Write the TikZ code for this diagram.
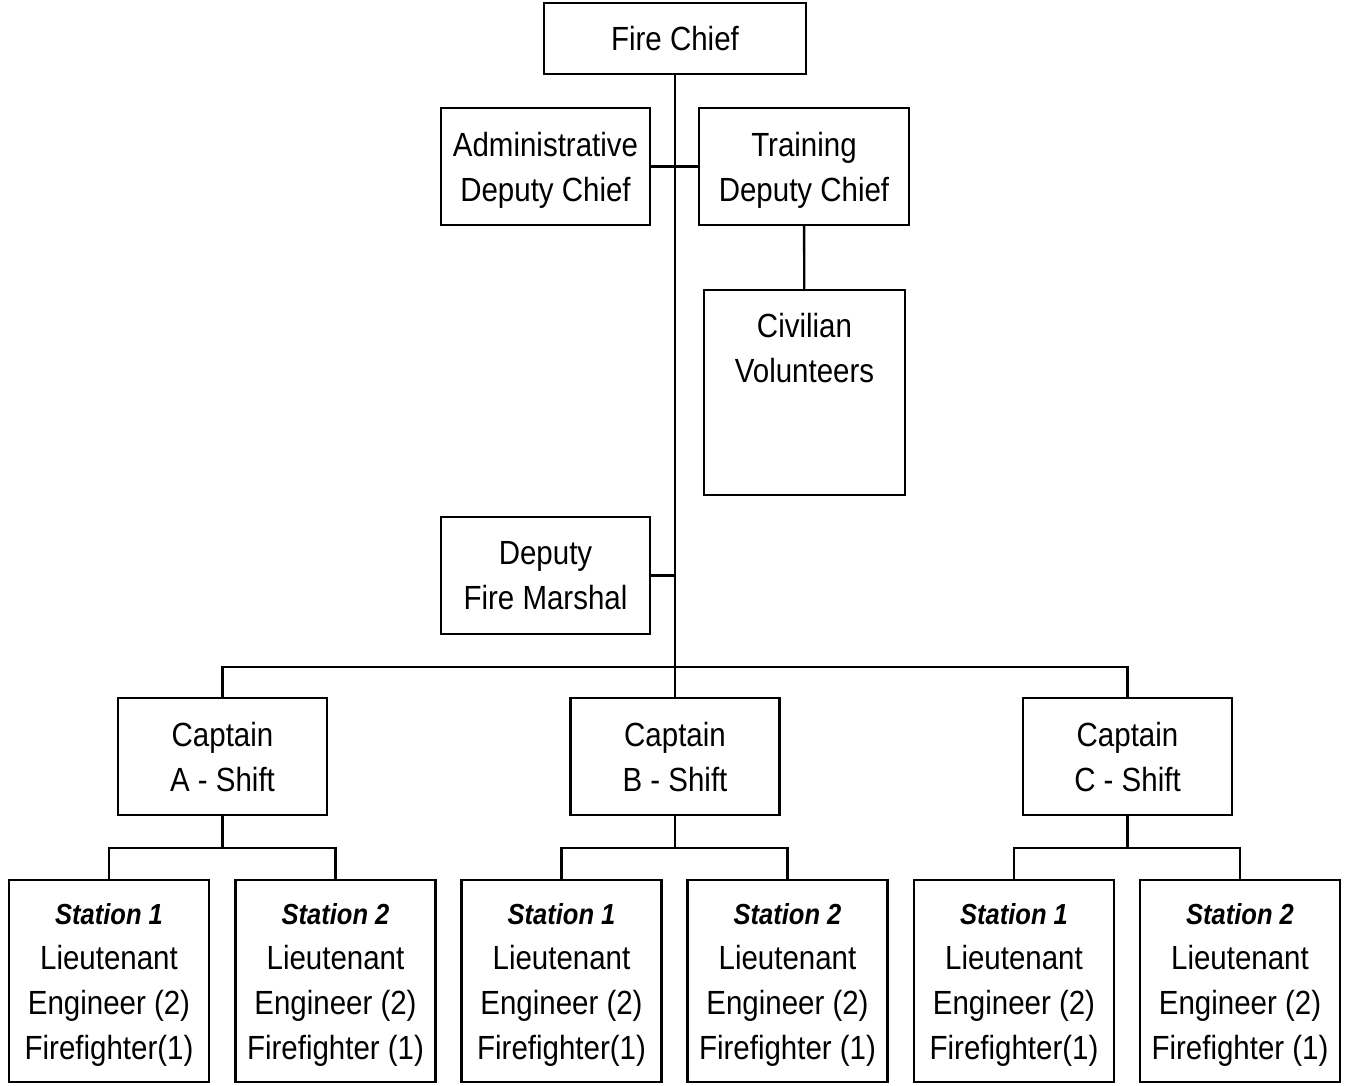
\documentclass[tikz,border=0pt]{standalone}
\usepackage{fontspec}
\setmainfont[FakeStretch=0.88]{Liberation Sans}
\begin{document}
\begin{tikzpicture}[x=1pt,y=-1pt,
  box/.style={draw, line width=2.4pt, inner sep=0pt, align=center, text depth=0pt,
    font=\fontsize{33.5}{45}\selectfont},
  wide/.style={box, minimum width=209pt, minimum height=117pt},
  station/.style={box, minimum width=200pt, minimum height=202pt},
  conn/.style={line width=2.4pt}]
\useasboundingbox (0,0) rectangle (1350,1085);
\newcommand{\sthead}[1]{{\fontsize{29}{45}\selectfont\bfseries\itshape #1}}
\node[box, minimum width=262pt, minimum height=71pt] (chief) at (675,38.5) {Fire Chief};
\node[wide] (admin) at (545.5,166.5) {Administrative\\Deputy Chief};
\node[wide, minimum width=210pt] (train) at (804,166.5) {Training\\Deputy Chief};
\node[box, minimum width=201pt, minimum height=205pt] (civ) at (804.5,392.5) {Civilian\\Volunteers\\\strut\\\strut};
\node[wide] (dfm) at (545.5,575.5) {Deputy\\Fire Marshal};
\node[wide] (captA) at (222.5,756.5) {Captain\\A - Shift};
\node[wide] (captB) at (675,756.5) {Captain\\B - Shift};
\node[wide] (captC) at (1127.5,756.5) {Captain\\C - Shift};
\node[station] (a1) at (109,981) {\sthead{Station 1}\\Lieutenant\\Engineer (2)\\Firefighter(1)};
\node[station] (a2) at (335.5,981) {\sthead{Station 2}\\Lieutenant\\Engineer (2)\\Firefighter (1)};
\node[station] (b1) at (561.5,981) {\sthead{Station 1}\\Lieutenant\\Engineer (2)\\Firefighter(1)};
\node[station] (b2) at (787.5,981) {\sthead{Station 2}\\Lieutenant\\Engineer (2)\\Firefighter (1)};
\node[station] (c1) at (1014,981) {\sthead{Station 1}\\Lieutenant\\Engineer (2)\\Firefighter(1)};
\node[station] (c2) at (1240,981) {\sthead{Station 2}\\Lieutenant\\Engineer (2)\\Firefighter (1)};
\coordinate (bus) at (675,667);
\coordinate (sbus) at (675,848);
\draw[conn] (chief) -- (captB);
\draw[conn] (admin.east) -- (train.west);
\draw[conn] (train) -- (civ);
\draw[conn] (dfm.east) -- (dfm.east -| chief.south);
\draw[conn] (captA.north) -- (captA.north |- bus) -- (captC.north |- bus) -- (captC.north);
\foreach \c/\l/\r in {captA/a1/a2, captB/b1/b2, captC/c1/c2}{
  \draw[conn] (\c.south) -- (\c.south |- sbus);
  \draw[conn] (\l.north) -- (\l.north |- sbus) -- (\r.north |- sbus) -- (\r.north);
}
\end{tikzpicture}
\end{document}
